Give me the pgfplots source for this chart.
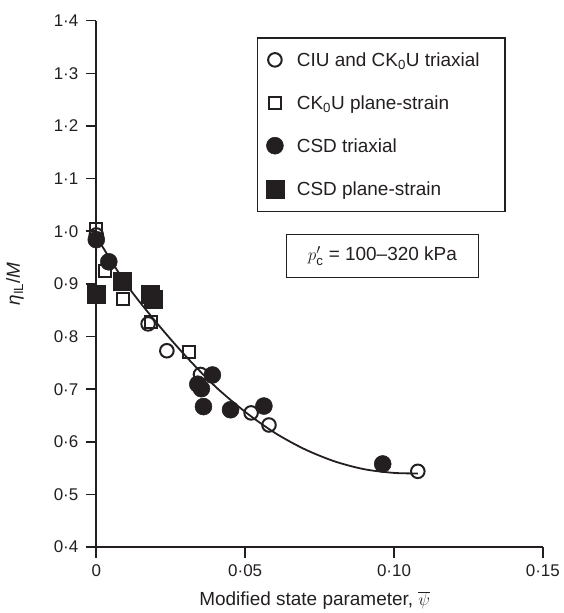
\documentclass[border=0pt]{standalone}
\usepackage{fontspec}
\setmainfont{Liberation Sans}
\usepackage{pgfplots}
\pgfplotsset{compat=1.18}
\definecolor{ink}{RGB}{35,31,32}
\begin{document}
\begin{tikzpicture}[font=\fontsize{17}{20}\selectfont]
\begin{axis}[
  scale only axis, width=447.5pt, height=527.6pt,
  xmin=0, xmax=0.15, ymin=0.4, ymax=1.4,
  axis x line=bottom, axis y line=left,
  axis line style={-, line width=1.6pt, ink},
  tick style={line width=1.6pt, ink},
  tick align=outside, major tick length=10.5pt,
  xtick={0,0.05,0.1,0.15},
  xticklabels={0,0·05,0·10,0·15},
  ytick={0.4,0.5,0.6,0.7,0.8,0.9,1.0,1.1,1.2,1.3,1.4},
  yticklabels={0·4,0·5,0·6,0·7,0·8,0·9,1·0,1·1,1·2,1·3,1·4},
  yticklabel style={xshift=-4pt, text=ink},
  xticklabel style={yshift=-3.5pt, text=ink},
  xlabel={Modified state parameter, $\overline{\psi}$},
  xlabel style={at={(axis description cs:0.489,-0.1113)}, anchor=base, text=ink,
    font=\fontsize{19}{22}\selectfont},
  ylabel={\textit{η}\textsubscript{IL}/\textit{M}},
  ylabel style={at={(axis description cs:-0.182,0.5)}, anchor=center, text=ink,
    font=\fontsize{19}{22}\selectfont},
  clip=false,
  legend cell align=left,
  legend style={at={(axis cs:0.0957,1.2023)}, anchor=center, draw=ink,
    /tikz/line width=1.2pt, inner xsep=8.5pt, inner ysep=13.5pt,
    row sep=26pt, column sep=13pt, font=\fontsize{19}{22}\selectfont,
    nodes={inner sep=0pt, text height=15pt, text depth=2pt, text=ink}},
]
\addplot[only marks, mark=o, mark size=6.8pt, line width=2pt, ink] coordinates {
 (0,0.993) (0.0174,0.824) (0.0237,0.773) (0.0350,0.728) (0.0520,0.655) (0.0580,0.632) (0.1080,0.544)};
\addlegendentry{\makebox[200pt][l]{CIU and CK\textsubscript{0}U triaxial}}
\addplot[only marks, mark=square, mark size=6pt, line width=2pt, ink] coordinates {
 (0,1.005) (0.003,0.925) (0.009,0.871) (0.0185,0.828) (0.0311,0.771)};
\addlegendentry{\makebox[200pt][l]{CK\textsubscript{0}U plane-strain}}
\addplot[only marks, mark=*, mark size=8.5pt, line width=0.5pt, draw=ink, fill=ink] coordinates {
 (0,0.984) (0.0042,0.942) (0.0341,0.7095) (0.0353,0.701) (0.0390,0.727) (0.0360,0.667)
 (0.0451,0.661) (0.0563,0.668) (0.0962,0.558)};
\addlegendentry{\makebox[200pt][l]{CSD triaxial}}
\addplot[only marks, mark=square*, mark size=9pt, line width=0.5pt, draw=ink, fill=ink] coordinates {
 (0,0.880) (0.0086,0.905) (0.0180,0.880) (0.0190,0.870)};
\addlegendentry{\makebox[200pt][l]{CSD plane-strain}}
\addplot[smooth, line width=1.8pt, ink, forget plot] coordinates {
 (0,0.990) (0.01,0.900) (0.02,0.828) (0.03,0.763) (0.04,0.705) (0.05,0.657)
 (0.06,0.617) (0.07,0.586) (0.08,0.563) (0.09,0.548) (0.10,0.541) (0.108,0.540)};
\node[draw=ink, line width=1.2pt, minimum width=192pt, minimum height=43pt, inner sep=0pt, text=ink,
  font=\fontsize{19}{22}\selectfont]
  at (axis cs:0.0961,0.9533) {$p'_{\mathrm{c}}$ = 100–320 kPa};
\coordinate (bl) at (rel axis cs:0,0);
\coordinate (tr) at (rel axis cs:1,1);
\end{axis}
\path ([shift={(-96.5pt,-64.7pt)}]bl) rectangle ([shift={(18pt,20.7pt)}]tr);
\end{tikzpicture}
\end{document}
